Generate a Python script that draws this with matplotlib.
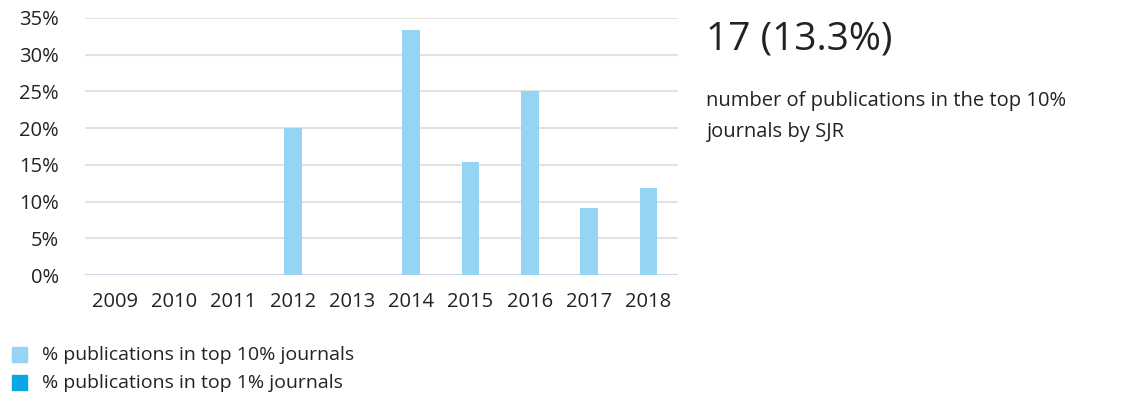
import matplotlib
matplotlib.use("Agg")
import matplotlib.pyplot as plt
import numpy as np

years = ["2009", "2010", "2011", "2012", "2013", "2014", "2015", "2016", "2017", "2018"]
top10_pct = [0, 0, 0, 20.0, 0, 33.3, 15.4, 25.0, 9.1, 11.8]
top1_pct = [0, 0, 0, 0, 0, 0, 0, 0, 0, 0]
yticks = [0, 5, 10, 15, 20, 25, 30, 35]
headline = "17 (13.3%)"
subtitle = "number of publications in the top 10%\njournals by SJR"
legend_labels = ["% publications in top 10% journals", "% publications in top 1% journals"]

c10 = "#97D4F4"
c1 = "#0BA6E4"

plt.rcParams['font.family'] = ['Open Sans', 'DejaVu Sans']

fig = plt.figure(figsize=(11.34, 4.07), dpi=100)
ax = fig.add_axes([0.075, 0.324, 0.523, 0.632])

x = np.arange(len(years))
w = 0.30
ax.bar(x, top10_pct, width=w, color=c10, zorder=3)
ax.bar(x + w, top1_pct, width=w, color=c1, zorder=3)

ax.set_xlim(-0.5, len(years) - 0.5)
ax.set_ylim(0, 35)
ax.set_yticks(yticks)
ax.set_yticklabels([f"{t}%" for t in yticks], fontsize=14.5, color="#222222")
ax.set_xticks(x)
ax.set_xticklabels(years, fontsize=14.5, color="#222222")
for t in yticks:
    ax.axhline(t, color="#e2e2e2" if t else "#cfd6e4", lw=1.5, zorder=1)
for s in ax.spines.values():
    s.set_visible(False)
ax.tick_params(length=0)
ax.tick_params(axis='x', pad=12)
ax.tick_params(axis='y', pad=19)

fig.text(0.623, 0.903, headline, fontsize=28, color="#222222", va="center", ha="left")
fig.text(0.623, 0.713, subtitle, fontsize=14.5, color="#222222", va="center", ha="left", linespacing=1.75)

for i, (lab, col) in enumerate(zip(legend_labels, [c10, c1])):
    yy = 1 - (355 + 28 * i) / 407
    fig.patches.append(plt.Rectangle((12 / 1134, yy - 7 / 407), 15 / 1134, 15 / 407,
                                     transform=fig.transFigure, color=col, figure=fig))
    fig.text(42 / 1134, yy, lab, fontsize=14, color="#222222", va="center", ha="left")

fig.savefig("out.png", dpi=100, facecolor="white")
